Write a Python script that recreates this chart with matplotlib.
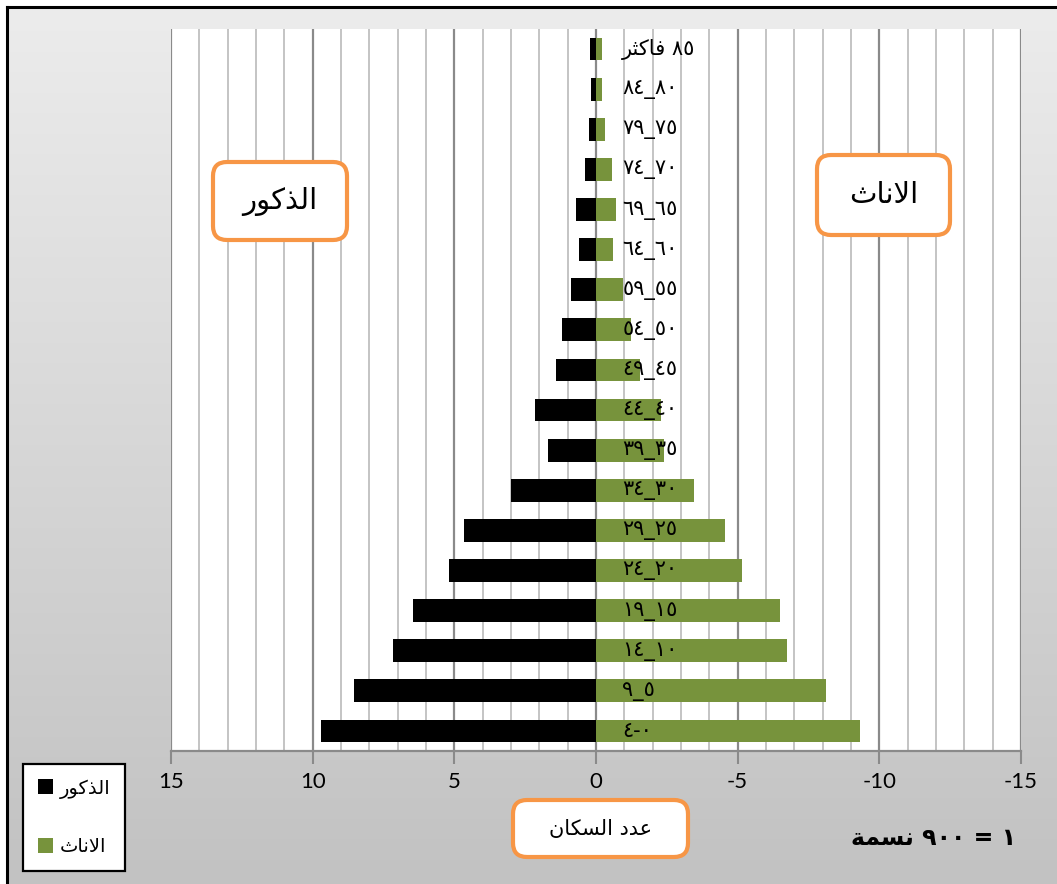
import matplotlib
import matplotlib.pyplot as plt
import numpy as np
from matplotlib.colors import LinearSegmentedColormap
from matplotlib.lines import Line2D
from matplotlib.patches import FancyBboxPatch
from matplotlib.ticker import FixedLocator, MultipleLocator
from matplotlib.transforms import IdentityTransform, blended_transform_factory

matplotlib.use("Agg")
plt.rcParams["axes.unicode_minus"] = False

# Arabic strings are written pre-shaped (presentation forms) in visual order,
# because matplotlib does no bidi reordering or joining.
age_groups = [
    "\u0664-\u0660",
    "\u0669_\u0665",
    "\u0661\u0664_\u0661\u0660",
    "\u0661\u0669_\u0661\u0665",
    "\u0662\u0664_\u0662\u0660",
    "\u0662\u0669_\u0662\u0665",
    "\u0663\u0664_\u0663\u0660",
    "\u0663\u0669_\u0663\u0665",
    "\u0664\u0664_\u0664\u0660",
    "\u0664\u0669_\u0664\u0665",
    "\u0665\u0664_\u0665\u0660",
    "\u0665\u0669_\u0665\u0665",
    "\u0666\u0664_\u0666\u0660",
    "\u0666\u0669_\u0666\u0665",
    "\u0667\u0664_\u0667\u0660",
    "\u0667\u0669_\u0667\u0665",
    "\u0668\u0664_\u0668\u0660",
    "\uFEAE\uFE9C\uFEDB\uFE8E\uFED3 \u0668\u0665",
]
males = [9.7, 8.55, 7.15, 6.45, 5.2, 4.65, 3.0, 1.7, 2.15, 1.4, 1.2, 0.9, 0.6, 0.7, 0.4, 0.25, 0.17, 0.2]
females = [9.3, 8.1, 6.75, 6.5, 5.15, 4.55, 3.45, 2.4, 2.3, 1.55, 1.25, 0.95, 0.6, 0.7, 0.55, 0.3, 0.22, 0.22]
x_ticks = [15, 10, 5, 0, -5, -10, -15]

male_name = "\uFEAD\uFEEE\uFEDB\uFEAC\uFEDF\uFE8D"  # الذكور
female_name = "\uFE99\uFE8E\uFEE7\uFEFB\uFE8D"  # الاناث
x_title = "\uFEE5\uFE8E\uFEDC\uFEB4\uFEDF\uFE8D \uFEA9\uFEAA\uFECB"  # عدد السكان
scale_note = "\uFE94\uFEE4\uFEB4\uFEE7 \u0669\u0660\u0660 = \u0661"  # ١ = ٩٠٠ نسمة

W, H = 1057, 884
ORANGE = "#F79646"
GREEN = "#77933C"
AR_FONT = "DejaVu Sans"

fig = plt.figure(figsize=(W / 100, H / 100), dpi=100)
fig.patch.set_facecolor("white")

# gradient chart background
bg = fig.add_axes([7 / W, 0, 1 - 7 / W, 1 - 7 / H])
grad = np.linspace(0, 1, 256).reshape(-1, 1)
bg.imshow(grad, cmap=LinearSegmentedColormap.from_list("bg", ["#ececec", "#c2c2c2"]),
          aspect="auto", extent=[0, 1, 0, 1], origin="upper")
bg.axis("off")
fig.add_artist(Line2D([7 / W, 7 / W], [0, 1 - 7 / H], color="black", lw=2.2, transform=fig.transFigure))
fig.add_artist(Line2D([7 / W, 1], [1 - 7 / H, 1 - 7 / H], color="black", lw=2.2, transform=fig.transFigure))

ax = fig.add_axes([171 / W, 1 - 751 / H, 850 / W, 722 / H])
ax.set_facecolor("white")

ypos = np.arange(len(age_groups))
ax.barh(ypos, males, height=0.57, color="black", label=male_name, zorder=3)
ax.barh(ypos, [-v for v in females], height=0.57, color=GREEN, label=female_name, zorder=3)

ax.set_xlim(15, -15)
ax.set_ylim(-0.5, len(age_groups) - 0.5)
ax.xaxis.set_major_locator(FixedLocator(x_ticks))
ax.xaxis.set_minor_locator(MultipleLocator(1))
ax.set_axisbelow(True)
ax.grid(which="minor", axis="x", color="#c4c4c4", lw=1.4)
ax.grid(which="major", axis="x", color="#8a8a8a", lw=1.6)
ax.set_yticks([])
ax.tick_params(axis="x", which="major", length=9, width=1.5, color="#8a8a8a", pad=6, labelsize=16)
ax.tick_params(axis="x", which="minor", length=0)
for lab in ax.get_xticklabels():
    lab.set_family("Lato")
for s in ("top", "left", "right"):
    ax.spines[s].set_visible(False)
ax.spines["bottom"].set_color("#8a8a8a")
ax.spines["bottom"].set_linewidth(1.6)

trans = blended_transform_factory(ax.transAxes, ax.transData)
for i, lab in enumerate(age_groups):
    ax.text(0.531, i, lab, transform=trans, ha="left", va="center",
            fontsize=15, family=AR_FONT, zorder=4)

# legend
leg = fig.legend(loc="upper left", bbox_to_anchor=(23 / W, 1 - 764 / H), frameon=True,
                 fancybox=False, edgecolor="black", framealpha=1, borderaxespad=0,
                 prop={"family": AR_FONT, "size": 14}, handlelength=0.8, handleheight=0.8,
                 labelspacing=2.0, borderpad=0.75, handletextpad=0.35)
leg.get_frame().set_linewidth(1.6)


def orange_box(x, y_top, w, h, text, size):
    y = H - y_top - h
    fig.add_artist(FancyBboxPatch((x, y), w, h, boxstyle="round,pad=0,rounding_size=14",
                                  fc="white", ec=ORANGE, lw=3, transform=IdentityTransform(),
                                  zorder=5))
    fig.text((x + w / 2) / W, (y + h / 2) / H, text, ha="center", va="center",
             fontsize=size, family=AR_FONT, zorder=6)


orange_box(213, 162, 134, 78, male_name, 21)
orange_box(817, 155, 133, 80, female_name, 21)
orange_box(513, 800, 175, 57, x_title, 15)

fig.text(934 / W, 1 - 838 / H, scale_note, ha="center", va="center", fontsize=17,
         fontweight="bold", family=AR_FONT)

fig.savefig("out.png", dpi=100)
